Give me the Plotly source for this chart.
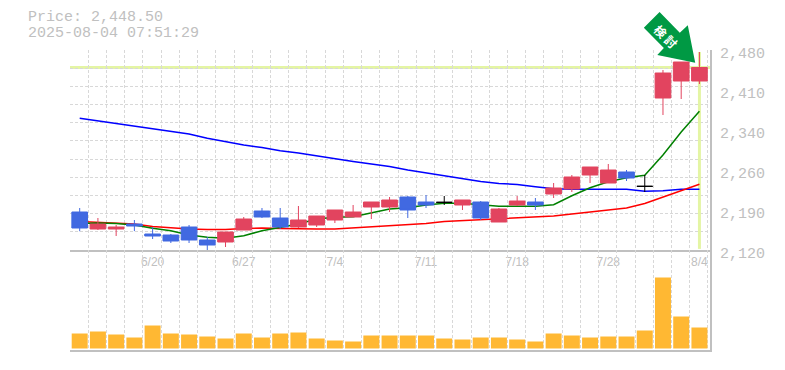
import plotly.graph_objects as go

# ---- data ----
dates = ["6/16","6/17","6/18","6/19","6/20","6/23","6/24","6/25","6/26","6/27",
         "6/30","7/1","7/2","7/3","7/4","7/7","7/8","7/9","7/10","7/11",
         "7/14","7/15","7/16","7/17","7/18","7/22","7/23","7/24","7/25","7/28",
         "7/29","7/30","7/31","8/1","8/4"]
open_ = [2188.4,2157.8,2157.8,2166.8,2148.8,2147.0,2161.4,2138.0,2134.4,2156.0,
         2190.2,2177.6,2161.4,2165.0,2174.0,2179.4,2197.4,2197.4,2215.4,2206.4,
         2205.8,2201.0,2206.4,2170.4,2201.0,2206.4,2220.8,2229.8,2255.0,2240.6,
         2260.4,2234.6,2393.6,2424.2,2424.2]
high = [2195.6,2177.6,2165.0,2174.0,2161.4,2148.8,2165.0,2143.4,2152.4,2179.4,
        2195.6,2195.6,2199.2,2181.2,2192.0,2201.0,2206.4,2215.4,2217.2,2219.0,
        2217.2,2210.0,2208.2,2195.6,2217.2,2213.6,2240.6,2255.0,2269.4,2274.8,
        2264.0,2255.0,2444.0,2458.4,2476.4]
low = [2153.8,2156.0,2145.2,2154.0,2139.8,2132.6,2132.6,2120.0,2125.4,2156.0,
       2177.6,2157.8,2159.6,2161.4,2168.6,2179.4,2175.8,2188.4,2177.6,2195.6,
       2201.0,2192.0,2174.0,2170.4,2199.2,2192.0,2213.6,2224.4,2240.6,2240.6,
       2244.2,2224.4,2363.0,2391.8,2418.8]
close = [2159.6,2166.8,2161.4,2163.2,2145.2,2136.2,2138.0,2129.0,2152.4,2175.8,
         2179.4,2161.4,2174.0,2181.2,2192.0,2188.4,2206.4,2210.0,2192.0,2201.0,
         2205.8,2210.0,2177.6,2193.8,2208.2,2201.0,2231.6,2251.4,2269.4,2264.0,
         2249.6,2234.6,2438.6,2458.4,2448.5]
ma_short = [2167.7,2168.6,2167.7,2165.0,2159.1,2154.7,2147.0,2142.9,2141.1,2145.7,
            2154.7,2160.9,2166.8,2175.8,2178.9,2179.9,2187.1,2193.8,2196.1,2201.0,
            2204.1,2204.1,2201.5,2198.7,2198.7,2198.7,2201.5,2217.7,2232.1,2242.9,
            2250.1,2254.5,2291.0,2332.4,2369.7]
ma_mid = [2171.3,2169.5,2167.7,2166.8,2162.3,2159.6,2157.8,2156.9,2156.9,2158.7,
          2159.6,2158.7,2157.8,2157.8,2157.8,2159.6,2161.4,2163.2,2165.0,2167.7,
          2171.3,2173.1,2174.9,2176.3,2177.6,2179.4,2181.2,2184.8,2188.4,2192.0,
          2195.6,2203.7,2215.4,2226.2,2238.3]
ma_long = [2357.1,2352.2,2348.1,2343.7,2338.7,2333.8,2328.8,2321.1,2314.4,2309.0,
           2304.5,2298.7,2294.6,2289.2,2284.2,2279.3,2274.8,2270.3,2264.0,2258.6,
           2253.7,2248.3,2243.3,2239.7,2237.9,2233.9,2230.3,2229.3,2229.3,2229.3,
           2229.3,2225.7,2226.7,2229.3,2229.3]
volume = [15,17,14,11,23,15,14,12,10,15,11,15,16,10,8,7,13,13,13,13,10,9,11,11,9,
          7,15,13,11,12,12,18,71,32,21]
current_price = 2448.5
price_ticks = [2120, 2192, 2264, 2336, 2408, 2480]
price_labels = ["2,120", "2,190", "2,260", "2,340", "2,410", "2,480"]
date_ticks = ["6/20", "6/27", "7/4", "7/11", "7/18", "7/28", "8/4"]
header_price = "Price: 2,448.50"
header_time = "2025-08-04 07:51:29"
badge_text = "<b>検 討</b>"

# ---- style ----
RED, BLUE, BLACK = "#E2445F", "#4169E1", "#000000"
GRID, FRAME, TEXT = "#D8D8D8", "#C0C0C0", "#C0C0C0"
PALE = "#E4F5A4"
ORANGE = "#FFB833"
ARROW = "#009944"
MONO = "Liberation Mono"
L, R, T, B = 70, 710.5, 50, 350
X_RANGE = [-0.532, 34.58]
Y_RANGE = [2120, 2480]

def paper(px, py):
    return (px - L) / (R - L), (B - py) / (B - T)

xs = list(range(len(dates)))
flat = [i for i in xs if open_[i] == close[i]]
rest = [i for i in xs if open_[i] != close[i]]
pick = lambda arr, idx: [arr[i] for i in idx]

fig = go.Figure()
fig.add_trace(go.Scatter(x=[xs[-1], xs[-1]], y=[2122, high[-1]], mode="lines",
                         line=dict(color=PALE, width=3), hoverinfo="skip", xaxis="x", yaxis="y"))
for vals, col in [(ma_long, "#0000FF"), (ma_mid, "#FF0000"), (ma_short, "#008000")]:
    fig.add_trace(go.Scatter(x=xs, y=vals, mode="lines", line=dict(color=col, width=1.5),
                             xaxis="x", yaxis="y"))
fig.add_trace(go.Candlestick(x=rest, open=pick(open_, rest), high=pick(high, rest),
                             low=pick(low, rest), close=pick(close, rest),
                             increasing=dict(line=dict(color=RED, width=1), fillcolor=RED),
                             decreasing=dict(line=dict(color=BLUE, width=1), fillcolor=BLUE),
                             xaxis="x3", yaxis="y3"))
fig.add_trace(go.Candlestick(x=flat, open=pick(open_, flat), high=pick(high, flat),
                             low=pick(low, flat), close=pick(close, flat),
                             increasing=dict(line=dict(color=BLACK, width=1), fillcolor=BLACK),
                             decreasing=dict(line=dict(color=BLACK, width=1), fillcolor=BLACK),
                             xaxis="x3", yaxis="y3"))
fig.add_trace(go.Bar(x=xs, y=volume, width=0.877, marker=dict(color=ORANGE, line=dict(width=0)),
                     xaxis="x2", yaxis="y2"))

tick_x = [dates.index(d) for d in date_ticks]
x_common = dict(range=X_RANGE, showgrid=False, zeroline=False, automargin=False,
                minor=dict(tick0=-0.532, dtick=1, showgrid=True, gridcolor=GRID, gridwidth=1,
                           griddash="3px,2px", ticks=""),
                rangeslider=dict(visible=False))

fig.update_layout(
    width=785, height=370, autosize=False,
    margin=dict(l=L, r=785 - R, t=T, b=370 - B, pad=0),
    paper_bgcolor="#FFFFFF", plot_bgcolor="#FFFFFF",
    showlegend=False, boxgap=0.14, boxgroupgap=0, boxmode="overlay",
    xaxis=dict(**x_common, anchor="y", tickvals=tick_x, ticktext=date_ticks, ticks="",
               showline=True, linecolor=FRAME, linewidth=2,
               tickfont=dict(family="Liberation Sans", size=12, color=TEXT)),
    xaxis2=dict(**x_common, anchor="y2", matches="x", showticklabels=False, ticks="",
                showline=True, linecolor=FRAME, linewidth=2),
    xaxis3=dict(range=X_RANGE, overlaying="x", anchor="y3", visible=False, automargin=False,
                rangeslider=dict(visible=False)),
    yaxis=dict(domain=[1 / 3, 1], range=Y_RANGE, side="right", anchor="x", automargin=False,
               tickvals=price_ticks, ticktext=price_labels, ticks="", showgrid=False,
               zeroline=False, showline=True, linecolor=FRAME, linewidth=2,
               ticklabelstandoff=5, ticklabelshift=3,
               tickfont=dict(family=MONO, size=15, color=TEXT),
               minor=dict(tick0=2120, dtick=360 / 11, showgrid=True, gridcolor=GRID,
                          gridwidth=1, griddash="3px,2px", ticks="")),
    yaxis2=dict(domain=[0, 1 / 3], range=[-1.5, 98.5], side="right", anchor="x2", automargin=False,
                showticklabels=False, ticks="", showgrid=False, zeroline=False,
                showline=True, linecolor=FRAME, linewidth=2),
    yaxis3=dict(domain=[1 / 3, 1], range=Y_RANGE, overlaying="y", anchor="x3", automargin=False,
                side="right", visible=False),
    shapes=[
        dict(type="line", xref="paper", yref="y", x0=0, x1=1, y0=current_price, y1=current_price,
             line=dict(color=PALE, width=3), layer="below"),
        dict(type="path", xref="paper", yref="paper", fillcolor=ARROW, line=dict(width=0), layer="above",
             path="M" + " L".join("%.4f,%.4f" % paper(*p) for p in
                  [(660, 12), (644.3, 27.7), (664.3, 48), (657.7, 55), (695.7, 62.7),
                   (688.3, 25.3), (680.3, 32.7)]) + " Z"),
    ],
    annotations=[
        dict(text=header_price, xref="paper", yref="paper", x=paper(27, 0)[0], y=paper(0, 17.5)[1],
             xanchor="left", yanchor="middle", showarrow=False, borderpad=0,
             font=dict(family=MONO, size=15, color=TEXT)),
        dict(text=header_time, xref="paper", yref="paper", x=paper(27, 0)[0], y=paper(0, 33.5)[1],
             xanchor="left", yanchor="middle", showarrow=False, borderpad=0,
             font=dict(family=MONO, size=15, color=TEXT)),
        dict(text=badge_text, xref="paper", yref="paper", x=paper(667, 0)[0], y=paper(0, 36)[1],
             xanchor="center", yanchor="middle", showarrow=False, textangle=45,
             font=dict(family="Noto Sans CJK JP", size=12, color="#FFFFFF")),
    ],
)

fig.write_html("out.html", config=dict(displayModeBar=False),
               post_script="document.body.style.margin='0';document.documentElement.style.overflow='hidden';")
